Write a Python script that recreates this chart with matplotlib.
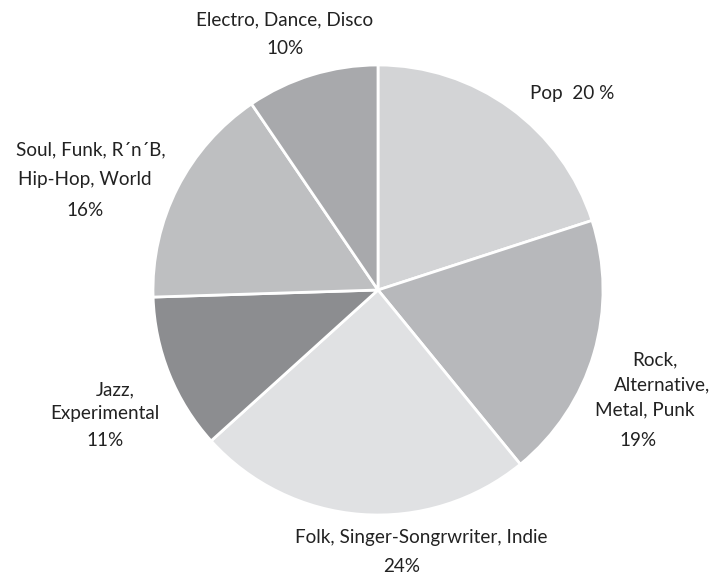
import matplotlib
matplotlib.use("Agg")
import matplotlib.pyplot as plt

# genre shares, clockwise from 12 o'clock (wedge sizes as drawn in the chart)
genres = ["Pop", "Rock", "Folk", "Jazz", "Soul", "Electro"]
shares = [20, 19.1, 24.2, 11.2, 16.0, 9.5]
colors = ["#d3d4d6", "#b7b8bb", "#e0e1e3", "#8c8d90", "#bebfc1", "#a8a9ac"]

# label text and where it sits (pixel centre in the 711x573 image)
labels = [
    ("Pop  20 %", 572, 93),
    ("Rock,", 655, 360),
    ("Alternative,", 662, 385),
    ("Metal, Punk", 645, 410),
    ("19%", 638, 441),
    ("Folk, Singer-Songrwriter, Indie", 421, 537),
    ("24%", 402, 566),
    ("Jazz,", 115, 390),
    ("Experimental", 105, 414),
    ("11%", 105, 441),
    ("Soul, Funk, R\u00b4n\u00b4B,", 91, 150),
    ("Hip-Hop, World", 85, 180),
    ("16%", 85, 210),
    ("Electro, Dance, Disco", 285, 20),
    ("10%", 285, 48),
]

W, H = 711, 573
CX, CY, R = 378, 290, 225

plt.rcParams["font.family"] = ["Lato", "DejaVu Sans"]

fig = plt.figure(figsize=(W / 100, H / 100), dpi=100)
ax = fig.add_axes([0, 0, 1, 1])
ax.pie(shares, colors=colors, startangle=90, counterclock=False, radius=1,
       wedgeprops=dict(edgecolor="white", linewidth=2))
ax.set_xlim(-CX / R, (W - CX) / R)
ax.set_ylim(-(H - CY) / R, CY / R)
ax.set_aspect("auto")
ax.axis("off")


def px(x, y):
    return (x - CX) / R, (CY - y) / R


for txt, x, y in labels:
    ax.text(*px(x, y), txt, ha="center", va="center", fontsize=13.6,
            color="#222222")

fig.savefig("out.png", dpi=100, facecolor="white")
